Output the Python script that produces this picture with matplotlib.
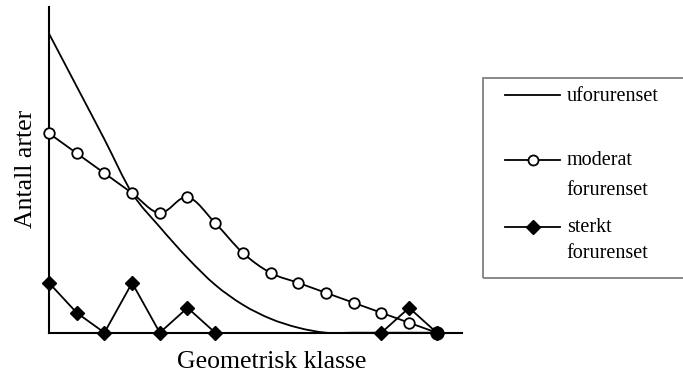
import numpy as np
import matplotlib
matplotlib.use("Agg")
import matplotlib.pyplot as plt
from matplotlib.path import Path
from matplotlib.patches import PathPatch, Rectangle
from matplotlib.lines import Line2D

# ---- data ----
klasse = list(range(15))
uforurenset = [30.0, 24.7, 19.4, 14.0, 10.6, 7.5, 4.8, 2.8, 1.4, 0.5, 0.0, 0.0, 0.0, 0.0, 0.0]
moderat = [20, 18, 16, 14, 12, 13.6, 11, 8, 6, 5, 4, 3, 2, 1, 0]
sterkt = [5, 2, 0, 5, 0, 2.5, 0, np.nan, np.nan, np.nan, np.nan, np.nan, 0, 2.5, 0]
labels = ["uforurenset", "moderat\nforurenset", "sterkt\nforurenset"]
xlabel = "Geometrisk klasse"
ylabel = "Antall arter"

W, H = 683, 376
plt.rcParams['font.family'] = ['Liberation Serif', 'DejaVu Serif']
fig = plt.figure(figsize=(W / 100, H / 100), dpi=100)

def fx(px):
    return px / W

def fy(py):
    return 1 - py / H

ax = fig.add_axes([fx(49), fy(332.7), fx(462 - 49), (332.7 - 6.7) / H])
ax.set_xlim(0, 14.91)
ax.set_ylim(0, 32.7)
for s in ['top', 'right']:
    ax.spines[s].set_visible(False)
for s in ['left', 'bottom']:
    ax.spines[s].set_linewidth(1.5)
    ax.spines[s].set_zorder(1)
ax.set_xticks([])
ax.set_yticks([])

LW = 1.3
MS_O = 7.6
MS_D = 7.6


def smooth_path(xs, ys):
    """Cubic Bezier path through the points (spline-smoothed line)."""
    pts = np.column_stack([xs, ys]).astype(float)
    n = len(pts)
    verts = [pts[0]]
    codes = [Path.MOVETO]
    for i in range(n - 1):
        p0 = pts[i - 1] if i > 0 else pts[i]
        p1 = pts[i]
        p2 = pts[i + 1]
        p3 = pts[i + 2] if i + 2 < n else pts[i + 1]
        c1 = p1 + (p2 - p0) / 6.0
        c2 = p2 - (p3 - p1) / 6.0
        verts += [c1, c2, p2]
        codes += [Path.CURVE4] * 3
    return Path(verts, codes)


# uforurenset: smoothed line
ax.add_patch(PathPatch(smooth_path(klasse, uforurenset), fill=False,
                       edgecolor='black', lw=LW, zorder=2))

# moderat: smoothed line with open circles
ax.add_patch(PathPatch(smooth_path(klasse, moderat), fill=False,
                       edgecolor='black', lw=LW, zorder=3))
ax.plot(klasse[:-1], moderat[:-1], linestyle='none', marker='o', ms=MS_O,
        mfc='white', mec='black', mew=1.3, zorder=4, clip_on=False)

# sterkt: straight line with filled diamonds
ax.plot(klasse, sterkt, color='black', lw=LW, marker='D', ms=MS_D,
        mfc='black', mec='black', zorder=5, clip_on=False)
# last moderat point drawn filled (as in the reference)
ax.plot(klasse[-1:], moderat[-1:], linestyle='none', marker='o', ms=9.2,
        mfc='black', mec='black', zorder=6, clip_on=False)

# axis labels
fig.text(fx(271.7), fy(368.3), xlabel, ha='center', va='baseline', fontsize=18.5)
fig.text(fx(31.7), fy(168.5), ylabel, ha='center', va='baseline', fontsize=18.5,
         rotation=90, rotation_mode='anchor')

# legend (drawn in figure pixels)
fig.patches.append(Rectangle((fx(482.7), fy(278.3)), fx(700 - 482.7), (278.3 - 77.7) / H,
                             transform=fig.transFigure, fill=False,
                             edgecolor='#808080', lw=1.3, zorder=10))
handle_y = [95, 160, 227.3]
text_base = [[101], [165, 195], [231.7, 258.3]]
styles = [None, dict(marker='o', ms=MS_O * 0.95, mfc='white', mew=1.3),
          dict(marker='D', ms=MS_D * 0.95, mfc='black')]
for lab, hy, tb, st in zip(labels, handle_y, text_base, styles):
    if st is None:
        ln = Line2D([fx(505), fx(560)], [fy(hy)] * 2, color='black', lw=LW,
                    transform=fig.transFigure)
    else:
        ln = Line2D([fx(505), fx(532.5), fx(560)], [fy(hy)] * 3, color='black', lw=LW,
                    transform=fig.transFigure, mec='black', markevery=[1], **st)
    fig.lines.append(ln)
    for line_txt, b in zip(lab.split("\n"), tb):
        fig.text(fx(566.7), fy(b), line_txt, ha='left', va='baseline', fontsize=14.5)

fig.savefig("out.png", dpi=100)
